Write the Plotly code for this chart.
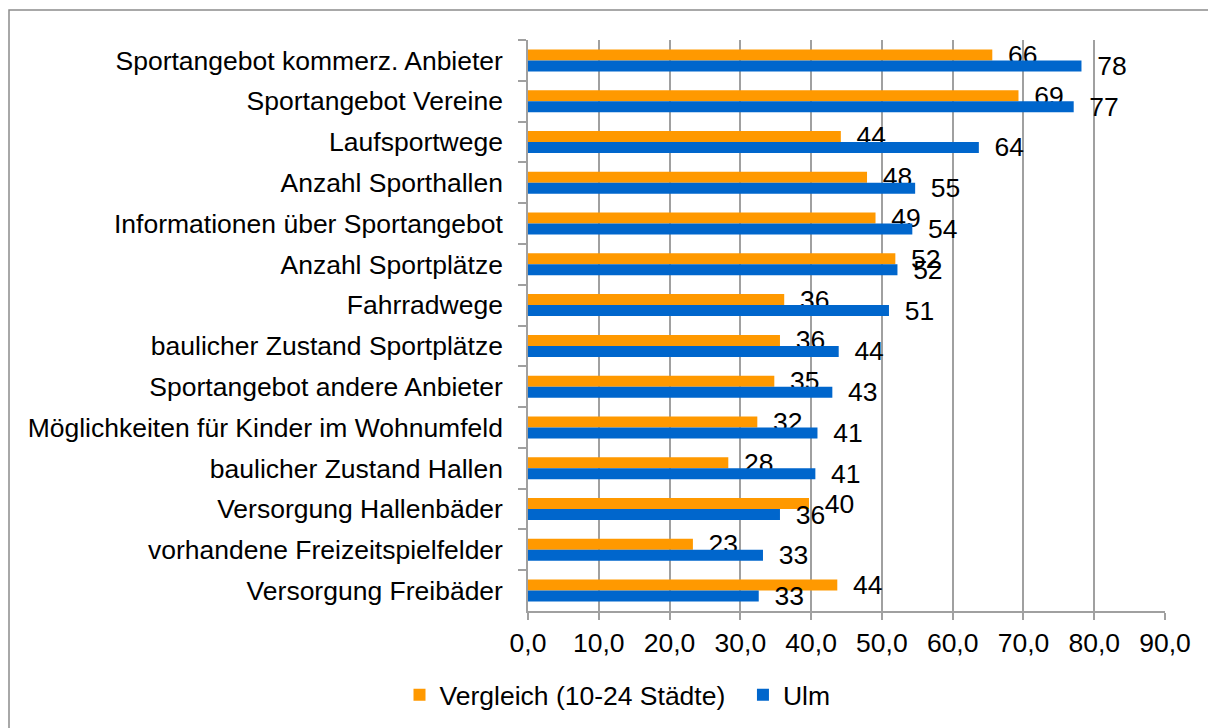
import plotly.graph_objects as go

categories = [
    "Sportangebot kommerz. Anbieter",
    "Sportangebot Vereine",
    "Laufsportwege",
    "Anzahl Sporthallen",
    "Informationen über Sportangebot",
    "Anzahl Sportplätze",
    "Fahrradwege",
    "baulicher Zustand Sportplätze",
    "Sportangebot andere Anbieter",
    "Möglichkeiten für Kinder im Wohnumfeld",
    "baulicher Zustand Hallen",
    "Versorgung Hallenbäder",
    "vorhandene Freizeitspielfelder",
    "Versorgung Freibäder",
]
vergleich = [65.6, 69.3, 44.2, 47.9, 49.1, 51.9, 36.2, 35.6, 34.8, 32.4, 28.3, 39.7, 23.3, 43.7]
ulm = [78.2, 77.1, 63.7, 54.7, 54.3, 52.2, 51.0, 43.9, 43.0, 40.9, 40.6, 35.6, 33.2, 32.6]
vergleich_labels = ["66", "69", "44", "48", "49", "52", "36", "36", "35", "32", "28", "40", "23", "44"]
ulm_labels = ["78", "77", "64", "55", "54", "52", "51", "44", "43", "41", "41", "36", "33", "33"]
x_ticks = [0, 10, 20, 30, 40, 50, 60, 70, 80, 90]

W, H = 1208, 728
L, R, T, B = 528, 43, 40, 117
FONT = "Liberation Sans, Arial, sans-serif"
FS = 26.5
NB = "\u00a0\u2009"

fig = go.Figure()
fig.add_trace(go.Bar(
    y=categories, x=vergleich, orientation="h",
    name="Vergleich (10-24 Städte)\u00a0\u2009",
    marker=dict(color="#FF9900", line=dict(width=0)),
    text=[NB + t for t in vergleich_labels], textposition="outside",
    constraintext="none", cliponaxis=False,
    textfont=dict(size=FS, color="#000000", family=FONT),
))
fig.add_trace(go.Bar(
    y=categories, x=ulm, orientation="h", name="Ulm",
    marker=dict(color="#0066CC", line=dict(width=0)),
    text=[NB + t for t in ulm_labels], textposition="outside",
    constraintext="none", cliponaxis=False,
    textfont=dict(size=FS, color="#000000", family=FONT),
))

pw = W - L - R
ph = H - T - B

fig.update_layout(
    width=W, height=H,
    margin=dict(l=L, r=R, t=T, b=B, pad=0, autoexpand=False),
    paper_bgcolor="white", plot_bgcolor="white",
    barmode="group", bargap=0.46, bargroupgap=0.0,
    separators=",.",
    font=dict(family=FONT, size=FS, color="#000000"),
    showlegend=True,
    legend=dict(
        orientation="h", xref="container", yref="container",
        x=617.5 / W, xanchor="center", y=1 - 695 / H, yanchor="middle",
        font=dict(size=FS, family=FONT, color="#000000"),
        itemwidth=30, traceorder="normal",
    ),
    xaxis=dict(
        range=[0, 90], tickvals=x_ticks, tickformat=".1f",
        showgrid=True, gridcolor="#A0A0A0", gridwidth=1.5,
        showline=True, linecolor="#A0A0A0", linewidth=1.5,
        ticks="outside", ticklen=7, tickcolor="#A0A0A0", tickwidth=1.5,
        tickfont=dict(size=FS, family=FONT, color="#000000"),
        zeroline=False, fixedrange=True,
    ),
    yaxis=dict(
        autorange="reversed", type="category",
        showline=True, linecolor="#A0A0A0", linewidth=1.5,
        ticks="outside", ticklen=8, tickcolor="#A0A0A0", tickwidth=1.5,
        tickson="boundaries", ticklabelstandoff=18,
        tickfont=dict(size=FS, family=FONT, color="#000000"),
        showgrid=False, fixedrange=True,
    ),
    shapes=[dict(
        type="rect", xref="paper", yref="paper",
        x0=(9 - L) / pw, x1=(1220 - L) / pw,
        y0=-(740 - T - ph) / ph,
        y1=(ph + (T - 10)) / ph,
        line=dict(color="#8C8C8C", width=1.5), fillcolor="rgba(0,0,0,0)",
        layer="above",
    )],
)

fig.write_html(
    "out.html",
    config={"displayModeBar": False},
    post_script="document.body.style.margin='0';document.body.style.overflow='hidden';",
)
